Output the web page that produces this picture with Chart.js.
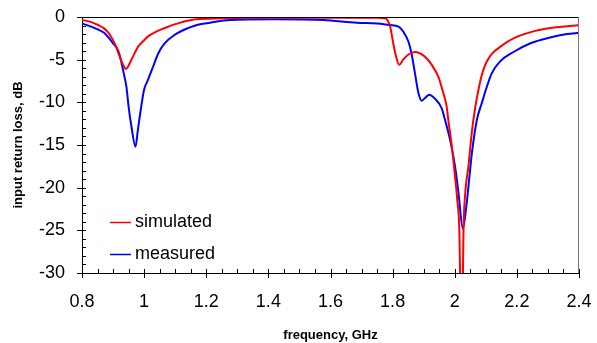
<!DOCTYPE html>
<html>
<head>
<meta charset="utf-8">
<script src="https://cdn.jsdelivr.net/npm/chart.js@4/dist/chart.umd.min.js"></script>
<style>
    html, body { margin: 0; padding: 0; background: #fff; }
    #wrap { width: 597px; height: 343px; }
</style>
</head>
<body>
<div id="wrap"><canvas id="graph" width="597" height="343"></canvas></div>
<script>
/********
 * Data *
 ********/
const simFreq = [0.80, 0.83, 0.852, 0.870, 0.884, 0.895, 0.905, 0.913, 0.921, 0.931, 0.941, 0.950,
    0.959, 0.970, 0.980, 0.995, 1.012, 1.030, 1.055, 1.080, 1.109, 1.140, 1.168,
    1.25, 1.40, 1.60, 1.75, 1.775, 1.784, 1.792, 1.802, 1.811, 1.821, 1.834, 1.851, 1.872, 1.899, 1.926,
    1.947, 1.963, 1.974, 1.979, 1.990, 2.001, 2.008, 2.015, 2.018, 2.022, 2.026, 2.028, 2.033,
    2.044, 2.055, 2.065, 2.076, 2.085, 2.095, 2.105, 2.120, 2.146, 2.189, 2.242, 2.307, 2.371, 2.40];
const simLoss = [-0.35, -0.6, -0.94, -1.3, -1.8, -2.4, -3.1, -3.8, -4.6, -5.5, -6.1, -5.7,
    -5.0, -4.2, -3.5, -2.9, -2.3, -1.9, -1.45, -1.1, -0.75, -0.45, -0.27,
    -0.15, -0.1, -0.1, -0.1, -0.15, -0.4, -1.1, -3.1, -4.6, -5.6, -5.0, -4.4, -4.1, -4.5, -5.6,
    -7.0, -8.9, -10.5, -12.0, -15.0, -18.7, -21.4, -25.3, -32, -35, -31, -25.3, -21.0,
    -17.5, -13.5, -10.8, -8.6, -7.1, -5.9, -5.1, -4.3, -3.5, -2.5, -1.8, -1.3, -1.05, -0.95];

const measFreq = [0.80, 0.841, 0.873, 0.900, 0.916, 0.925, 0.932, 0.943, 0.950, 0.959, 0.972, 0.980,
    0.989, 1.000, 1.012, 1.029, 1.045, 1.066, 1.098, 1.141, 1.173, 1.212, 1.276, 1.415, 1.576,
    1.685, 1.750, 1.792, 1.818, 1.834, 1.851, 1.861, 1.872, 1.883, 1.894, 1.904, 1.918, 1.937,
    1.958, 1.969, 1.985, 2.001, 2.012, 2.026, 2.036, 2.044, 2.055, 2.071, 2.087, 2.103, 2.119,
    2.146, 2.189, 2.242, 2.307, 2.361, 2.40];
const measLoss = [-0.75, -1.3, -1.9, -3.1, -3.9, -5.0, -6.2, -8.2, -10.5, -12.8, -15.2, -13.2,
    -10.9, -8.5, -7.4, -5.8, -4.3, -3.1, -2.1, -1.3, -0.9, -0.67, -0.35, -0.27, -0.35,
    -0.67, -0.75, -0.94, -1.1, -1.7, -2.9, -4.3, -6.6, -8.9, -9.8, -9.5, -9.1, -9.6,
    -10.7, -12.1, -14.4, -17.5, -20.6, -24.8, -22.6, -19.9, -16.0, -12.1, -10.1, -8.2, -6.6,
    -5.2, -4.1, -3.1, -2.4, -2.0, -1.85];

const seriesLabels = ['simulated', 'measured'];
const seriesColors = ['#ff0000', '#0000ff'];

const xMin = 0.8, xMax = 2.4, xStep = 0.2, xMinorDiv = 4;
const yMin = -30, yMax = 0, yStep = 5, yMinorDiv = 5;

const fontFamily = '"Liberation Sans", Arial, sans-serif';

function toPoints(xs, ys) {
    return xs.map((x, i) => ({x: x, y: ys[i]}));
}

/**
 * Draws ticks (major cross the axis, minor inside), the frame and the legend.
 */
const framePlugin = {
    id: 'frame',
    afterDraw(chart) {
        const ctx = chart.ctx;
        const area = chart.chartArea;
        const xs = chart.scales.x;
        const ys = chart.scales.y;
        ctx.save();
        ctx.lineWidth = 1;

        // top and right border
        ctx.strokeStyle = '#000';
        ctx.beginPath();
        ctx.moveTo(area.left, area.top + 0.5);
        ctx.lineTo(area.right, area.top + 0.5);
        ctx.stroke();
        ctx.strokeStyle = '#777';
        ctx.beginPath();
        ctx.moveTo(area.right - 0.5, area.top);
        ctx.lineTo(area.right - 0.5, area.bottom);
        ctx.stroke();

        ctx.strokeStyle = '#000';
        ctx.beginPath();
        // x ticks
        const xMinorStep = xStep / xMinorDiv;
        for (let i = 0; i <= Math.round((xMax - xMin) / xMinorStep); ++i) {
            const px = Math.round(xs.getPixelForValue(xMin + i * xMinorStep)) + 0.5;
            const major = i % xMinorDiv === 0;
            ctx.moveTo(px, area.bottom - 4);
            ctx.lineTo(px, area.bottom + (major ? 5 : 0));
        }
        // y ticks
        const yMinorStep = yStep / yMinorDiv;
        for (let i = 0; i <= Math.round((yMax - yMin) / yMinorStep); ++i) {
            const py = Math.round(ys.getPixelForValue(yMin + i * yMinorStep)) + 0.5;
            const major = i % yMinorDiv === 0;
            ctx.moveTo(area.left - (major ? 5 : 0), py);
            ctx.lineTo(area.left + 4, py);
        }
        ctx.stroke();

        // legend in the lower left of the plot
        ctx.font = '18px ' + fontFamily;
        ctx.textBaseline = 'middle';
        ctx.textAlign = 'left';
        chart.data.datasets.forEach((ds, i) => {
            const y = Math.round(area.bottom - 51 + i * 31.5) + 0.5;
            ctx.strokeStyle = ds.borderColor;
            ctx.lineWidth = 1.5;
            ctx.beginPath();
            ctx.moveTo(area.left + 28, y);
            ctx.lineTo(area.left + 49, y);
            ctx.stroke();
            ctx.fillStyle = '#000';
            ctx.fillText(ds.label, area.left + 53, y);
        });
        ctx.restore();
    }
};

const context = document.getElementById('graph').getContext('2d');
const chart = new Chart(context, {
    type: 'line',
    data: {
        datasets: [
            {
                label: seriesLabels[0],
                data: toPoints(simFreq, simLoss),
                borderColor: seriesColors[0],
                borderWidth: 2,
                pointRadius: 0,
                cubicInterpolationMode: 'monotone',
                fill: false
            },
            {
                label: seriesLabels[1],
                data: toPoints(measFreq, measLoss),
                borderColor: seriesColors[1],
                borderWidth: 2,
                pointRadius: 0,
                cubicInterpolationMode: 'monotone',
                fill: false
            }
        ]
    },
    options: {
        responsive: false,
        animation: false,
        layout: {
            padding: {top: 17, right: 18, left: 0, bottom: 0}
        },
        plugins: {
            legend: {display: false},
            tooltip: {enabled: false}
        },
        scales: {
            x: {
                type: 'linear',
                min: xMin,
                max: xMax,
                ticks: {
                    stepSize: xStep,
                    padding: 18,
                    color: '#000',
                    font: {family: fontFamily, size: 18},
                    maxRotation: 0,
                    callback: value => String(+value.toFixed(2))
                },
                grid: {display: true, drawOnChartArea: false, drawTicks: false},
                border: {color: '#000', width: 1},
                title: {
                    display: true,
                    text: 'frequency, GHz',
                    color: '#000',
                    font: {family: fontFamily, size: 13, weight: 'bold'},
                    padding: {top: 0, bottom: 0}
                },
                afterFit: scale => {
                    scale.height = 70;
                    scale.paddingLeft = 0;
                    scale.paddingRight = 0;
                }
            },
            y: {
                min: yMin,
                max: yMax,
                ticks: {
                    stepSize: yStep,
                    padding: 17,
                    color: '#000',
                    font: {family: fontFamily, size: 18},
                    callback: value => String(+value.toFixed(1))
                },
                grid: {display: true, drawOnChartArea: false, drawTicks: false},
                border: {color: '#000', width: 1},
                title: {
                    display: true,
                    text: 'input return loss, dB',
                    color: '#000',
                    font: {family: fontFamily, size: 13, weight: 'bold'},
                    padding: {top: 11, bottom: 0}
                },
                afterFit: scale => {
                    scale.width = 82;
                    scale.paddingTop = 0;
                    scale.paddingBottom = 0;
                }
            }
        }
    },
    plugins: [framePlugin]
});
</script>
</body>
</html>
